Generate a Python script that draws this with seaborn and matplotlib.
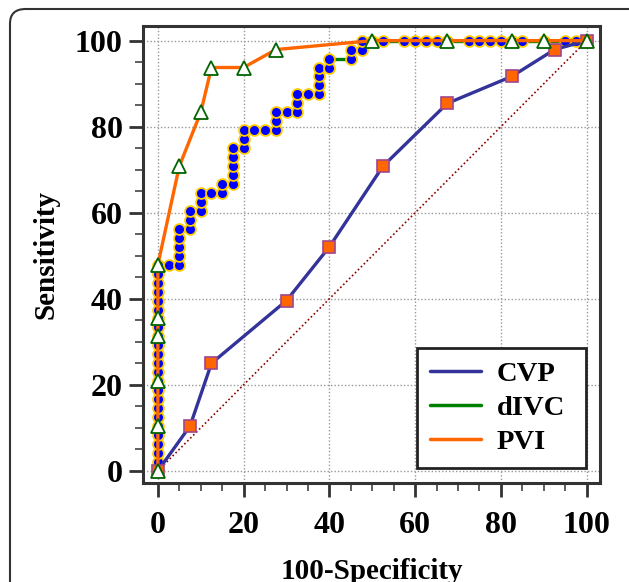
import matplotlib
matplotlib.use("Agg")
import matplotlib.pyplot as plt
from matplotlib.lines import Line2D
from matplotlib.patches import FancyBboxPatch
from matplotlib.ticker import MultipleLocator
import seaborn as sns
import pandas as pd

# ---------------- data ----------------
cvp_x = [0, 7.5, 12.5, 30, 40, 52.5, 67.5, 82.5, 92.5, 100]
cvp_y = [0, 10.42, 25, 39.58, 52.08, 70.83, 85.42, 91.67, 97.92, 100]

pvi_x = [0, 0, 0, 0, 0, 0, 5, 10, 12.5, 20, 27.5, 50, 67.5, 82.5, 90, 100]
pvi_y = [0, 10.42, 20.83, 31.25, 35.42, 47.92, 70.83, 83.33, 93.75, 93.75,
         97.92, 100, 100, 100, 100, 100]

divc_x = [0, 0, 0, 0, 0, 0, 0, 0, 0, 0, 0, 0, 0, 0, 0, 0, 0, 0, 0, 0, 0, 0, 0, 0,
          2.5, 5, 5, 5, 5, 5, 7.5, 7.5, 7.5, 10, 10, 10, 12.5, 15, 15,
          17.5, 17.5, 17.5, 17.5, 17.5, 20, 20, 20, 22.5, 25, 27.5, 27.5, 27.5,
          30, 32.5, 32.5, 32.5, 35, 37.5, 37.5, 37.5, 37.5, 40, 40, 45, 45,
          47.5, 47.5, 50, 52.5, 57.5, 60, 62.5, 65, 67.5, 72.5, 75, 77.5, 80,
          82.5, 85, 90, 95, 97.5, 100]
divc_y = [0, 2.08, 4.17, 6.25, 8.33, 10.42, 12.5, 14.58, 16.67, 18.75, 20.83,
          22.92, 25, 27.08, 29.17, 31.25, 33.33, 35.42, 37.5, 39.58, 41.67,
          43.75, 45.83, 47.92,
          47.92, 47.92, 50, 52.08, 54.17, 56.25, 56.25, 58.33, 60.42, 60.42,
          62.5, 64.58, 64.58, 64.58, 66.67,
          66.67, 68.75, 70.83, 72.92, 75, 75, 77.08, 79.17, 79.17, 79.17,
          79.17, 81.25, 83.33,
          83.33, 83.33, 85.42, 87.5, 87.5, 87.5, 89.58, 91.67, 93.75, 93.75,
          95.83, 95.83, 97.92,
          97.92, 100, 100, 100, 100, 100, 100, 100, 100, 100, 100, 100, 100,
          100, 100, 100, 100, 100, 100]

diag_x = [0, 100]
diag_y = [0, 100]

series_names = ["CVP", "dIVC", "PVI"]
tick_values = [0, 20, 40, 60, 80, 100]

# ---------------- style ----------------
sns.set_theme(style="white")
plt.rcParams["font.family"] = ["Liberation Serif", "DejaVu Serif"]
plt.rcParams["font.weight"] = "bold"
plt.rcParams["text.color"] = "black"
plt.rcParams["axes.labelcolor"] = "black"

fig = plt.figure(figsize=(6.29, 5.82), dpi=100)
ax = fig.add_axes([143.3 / 629, 1 - 483.3 / 582, (600 - 143.3) / 629, (483.3 - 26) / 582])

df_cvp = pd.DataFrame({"x": cvp_x, "y": cvp_y})
df_pvi = pd.DataFrame({"x": pvi_x, "y": pvi_y})
df_divc = pd.DataFrame({"x": divc_x, "y": divc_y})
df_diag = pd.DataFrame({"x": diag_x, "y": diag_y})

col_cvp = "#333399"
col_divc = "#008000"
col_pvi = "#FF6600"

sns.lineplot(data=df_diag, x="x", y="y", sort=False, estimator=None, ax=ax,
             color="#8B0000", lw=1.2, linestyle=(0, (1, 1.5)), zorder=2)
sns.lineplot(data=df_divc, x="x", y="y", sort=False, estimator=None, ax=ax,
             color=col_divc, lw=2.4, marker="o", markersize=7.8,
             markerfacecolor="#0000FF", markeredgecolor="#FFCC00",
             markeredgewidth=1.3, zorder=3)
sns.lineplot(data=df_cvp, x="x", y="y", sort=False, estimator=None, ax=ax,
             color=col_cvp, lw=2.4, marker="s", markersize=8,
             markerfacecolor="#FF6600", markeredgecolor="#A0468C",
             markeredgewidth=1.2, zorder=4)
sns.lineplot(data=df_pvi, x="x", y="y", sort=False, estimator=None, ax=ax,
             color=col_pvi, lw=2.4, marker="^", markersize=10,
             markerfacecolor="white", markeredgecolor="#006400",
             markeredgewidth=1.3, zorder=5)

ax.set_xlim(-3.4, 103.1)
ax.set_ylim(-2.9, 103.4)
ax.set_xticks(tick_values)
ax.set_yticks(tick_values)
ax.xaxis.set_minor_locator(MultipleLocator(5))
ax.yaxis.set_minor_locator(MultipleLocator(5))
ax.grid(True, which="major", color="#999999", linestyle=(0, (1, 1.5)), lw=1)
ax.set_axisbelow(True)

for s in ax.spines.values():
    s.set_color("#333333")
    s.set_linewidth(2.2)
    s.set_visible(True)

ax.tick_params(which="major", direction="out", length=9.8, width=2.0,
               color="#333333", labelcolor="black", labelsize=23, pad=5)
ax.tick_params(axis="x", which="major", pad=10)
ax.tick_params(which="minor", direction="out", length=5.5, width=1.1,
               color="#333333")
ax.tick_params(bottom=True, left=True, which="both")
for lab in ax.get_xticklabels() + ax.get_yticklabels():
    lab.set_fontweight("bold")

ax.set_xlabel("100-Specificity", fontsize=21, fontweight="bold", labelpad=13,
              color="black")
ax.set_ylabel("Sensitivity", fontsize=21, fontweight="bold", labelpad=11,
              color="black")

handles = [Line2D([0], [0], color=c, lw=2.5) for c in (col_cvp, col_divc, col_pvi)]
leg = ax.legend(handles, series_names, loc="lower left",
                bbox_to_anchor=(0.599, 0.034, 0.370, 0.26), mode="expand",
                frameon=True, fancybox=False,
                framealpha=1, edgecolor="#222222", handlelength=1.8,
                handletextpad=0.55, borderpad=0.45, labelspacing=0.28,
                borderaxespad=0,
                prop={"family": "Liberation Serif", "weight": "bold", "size": 20.5})
leg.get_frame().set_linewidth(2)
for t in leg.get_texts():
    t.set_color("black")

border = FancyBboxPatch((10 / 629, -0.2), 1.3, 0.2 + 1 - 9 / 582,
                        boxstyle="round,pad=0,rounding_size=0.025",
                        transform=fig.transFigure, fill=False,
                        edgecolor="#333333", lw=1.5, clip_on=False)
fig.patches.append(border)

fig.savefig("out.png", dpi=100)
